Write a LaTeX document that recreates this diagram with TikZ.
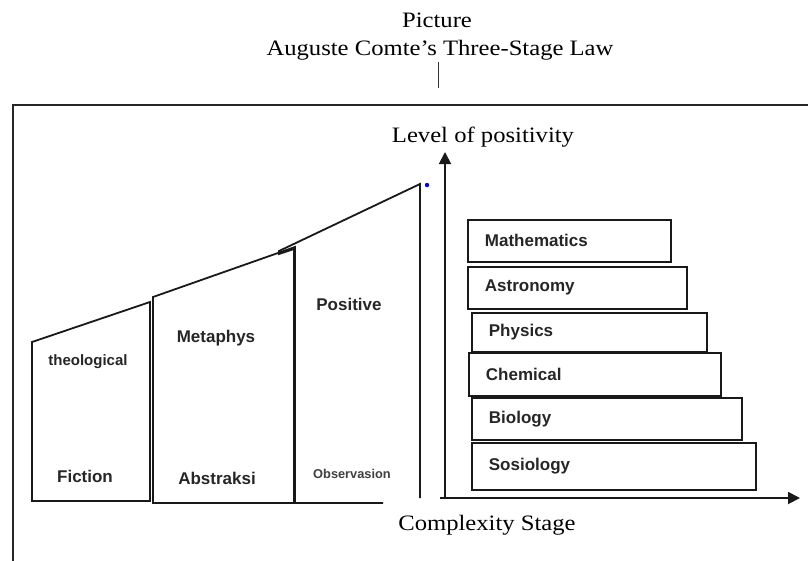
\documentclass[tikz,border=0pt]{standalone}
\usepackage{fontspec}
\setmainfont{Liberation Serif}[FakeStretch=1.12]
\newfontfamily\sansf{Liberation Sans}
\usetikzlibrary{arrows.meta}
\tikzset{
  frame/.style={line width=2.4pt, draw=black!85},
  stage/.style={line width=1.8pt, line join=miter, draw=black!90},
  lab/.style={font=\sansf\bfseries\fontsize{17}{20}\selectfont, inner sep=0pt, text=black!85},
  smalllab/.style={font=\sansf\bfseries\fontsize{12.8}{15}\selectfont, inner sep=0pt, text=black!75},
  sci/.style={draw=black!90, line width=1.8pt, anchor=north west, inner xsep=17pt, inner ysep=0pt,
     align=left, font=\sansf\bfseries\fontsize{17}{20}\selectfont, text=black!85},
  serif/.style={font=\fontsize{22}{26}\selectfont, inner sep=0pt, anchor=base, text=black},
  axis/.style={line width=1.8pt, draw=black!90, -{Triangle[length=12pt,width=12pt]}}
}
\begin{document}
\begin{tikzpicture}[x=1pt,y=-1pt]
\useasboundingbox (0,0) rectangle (808,560);
% title
\node[serif] (pic) at (437,27) {Picture};
\node[serif] (title) at (440,55) {Auguste Comte's Three-Stage Law};
\coordinate (tlA) at (438,62);
\coordinate (tlB) at (438,88);
\draw[line width=1pt, black!80] (tlA) -- (tlB);
% frame
\draw[frame] (13,565) -- (13,105) -- (815,105);
% stages
\draw[stage] (32,501) -- (32,342) -- (150,302) -- (150,501) -- cycle;
\draw[stage] (153,503) -- (153,297) -- (295,247) -- (295,503) -- cycle;
\draw[stage] (383,503) -- (294,503) -- (294,249) -- (279,254) -- (279,251) -- (420,184) -- (420,498);
\fill[blue] (427,185) circle (2.2pt);
\node[lab, font=\sansf\bfseries\fontsize{15}{18}\selectfont] (theo) at (88,362) {theological};
\node[lab] (fic) at (85,476) {Fiction};
\node[lab] (meta) at (216,338) {Metaphys};
\node[lab] (abs) at (217,478) {Abstraksi};
\node[lab] (pos) at (349,304) {Positive};
\node[smalllab] (obs) at (352,474) {Observasion};
% axes
\coordinate (O) at (445,498);
\coordinate (Ytop) at (445,152);
\coordinate (Xstart) at (440,498);
\coordinate (Xend) at (800,498);
\draw[axis] (O) -- (Ytop);
\draw[axis] (Xstart) -- (Xend);
\node[serif] (ylab) at (483,142) {Level of positivity};
\node[serif] (xlab) at (487,530) {Complexity Stage};
% sciences
\node[sci, text width=169pt, minimum height=42pt] (math) at (467,219) {Mathematics};
\node[sci, text width=185pt, minimum height=42pt] (astro) at (467,266) {Astronomy};
\node[sci, text width=201pt, minimum height=39pt] (phys) at (471,312) {Physics};
\node[sci, text width=218pt, minimum height=43pt] (chem) at (468,352) {Chemical};
\node[sci, text width=236pt, minimum height=42pt] (bio) at (471,397) {Biology};
\node[sci, text width=250pt, minimum height=47pt] (soc) at (471,442) {Sosiology};
\end{tikzpicture}
\end{document}
